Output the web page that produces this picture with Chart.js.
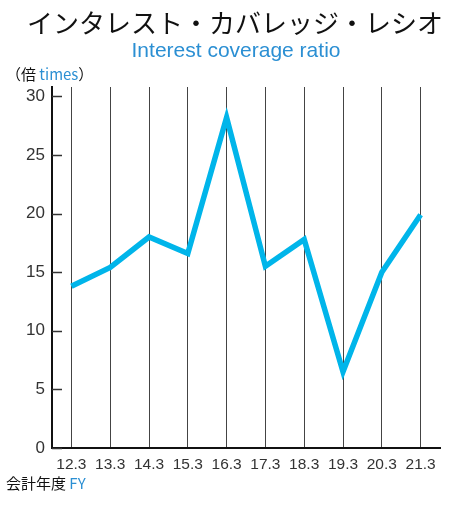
<!DOCTYPE html>
<html><head><meta charset="utf-8">
<script src="https://cdn.jsdelivr.net/npm/chart.js@4"></script>
<style>html,body{margin:0;padding:0;background:#fff}#wrap{width:454px;height:506px;position:relative}</style>
</head><body><div id="wrap"><canvas id="c" width="454" height="506"></canvas></div>
<script>
const categories = ["12.3","13.3","14.3","15.3","16.3","17.3","18.3","19.3","20.3","21.3"];
const coverageRatio = [13.8, 15.4, 18.0, 16.6, 28.2, 15.5, 17.8, 6.5, 15.0, 19.9];
const yTickValues = [0,5,10,15,20,25,30];
const titleJa = "インタレスト・カバレッジ・レシオ";
const titleEn = "Interest coverage ratio";
const unitJa = ["（倍 ", "times", "）"];
const xLabelJa = ["会計年度 ", "FY"];

const FONT = "'Liberation Sans','Noto Sans CJK JP',sans-serif";
const JFONT = "'Noto Sans CJK JP','Liberation Sans',sans-serif";
const BLUE = "#2b8fd3";
const LINE = "#00b5ea";

const textPlugin = {
  id: 'texts',
  afterDraw(chart) {
    const ctx = chart.ctx;
    ctx.save();
    ctx.textBaseline = 'middle';
    ctx.textAlign = 'center';
    ctx.fillStyle = '#111';
    ctx.font = "26px " + JFONT;
    ctx.fillText(titleJa, 235, 23);
    ctx.fillStyle = BLUE;
    ctx.font = "21px " + FONT;
    ctx.fillText(titleEn, 236, 51);
    ctx.textAlign = 'left';
    function mixed(parts, colors, x, y, font) {
      ctx.font = font;
      parts.forEach((p, i) => {
        ctx.fillStyle = colors[i];
        ctx.fillText(p, x, y);
        x += ctx.measureText(p).width;
      });
    }
    mixed(unitJa, ['#111', BLUE, '#111'], 6, 74, "15px " + JFONT);
    mixed(xLabelJa, ['#111', BLUE], 6, 483, "15px " + JFONT);
    const y = chart.scales.y;
    ctx.strokeStyle = '#333';
    ctx.lineWidth = 1.5;
    yTickValues.forEach(v => {
      const py = Math.round(y.getPixelForValue(v)) + 0.5;
      ctx.beginPath();
      ctx.moveTo(y.right, py);
      ctx.lineTo(y.right + 10, py);
      ctx.stroke();
    });
    ctx.restore();
  }
};

new Chart(document.getElementById('c'), {
  type: 'line',
  data: {
    labels: categories,
    datasets: [{
      data: coverageRatio,
      borderColor: LINE,
      borderWidth: 5.5,
      pointRadius: 0,
      tension: 0,
      fill: false,
      borderJoinStyle: 'miter'
    }]
  },
  options: {
    responsive: false,
    animation: false,
    devicePixelRatio: 1,
    layout: { padding: { top: 87, right: 14, left: 0, bottom: 0 } },
    plugins: { legend: { display: false }, title: { display: false }, tooltip: { enabled: false } },
    scales: {
      x: {
        offset: true,
        grid: { offset: false, color: '#444', lineWidth: 1, drawTicks: false },
        border: { color: '#111', width: 2 },
        ticks: { color: '#333', font: { size: 15.5, family: FONT }, padding: 7, maxRotation: 0, autoSkip: false },
        afterFit(s) { s.height = 58; }
      },
      y: {
        min: 0, max: 30.8,
        grid: { display: false, drawTicks: false },
        border: { color: '#111', width: 2 },
        ticks: { color: '#333', font: { size: 17, family: FONT }, padding: 7 },
        afterBuildTicks(s) { s.ticks = yTickValues.map(v => ({ value: v })); },
        afterFit(s) { s.width = 52; }
      }
    }
  },
  plugins: [textPlugin]
});
</script>
</body></html>
